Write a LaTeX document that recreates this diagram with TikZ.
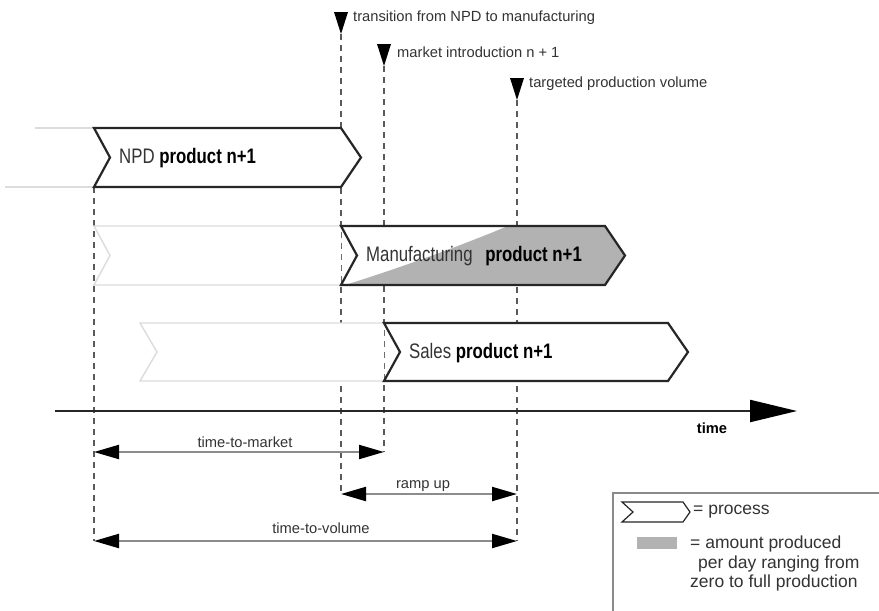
\documentclass[tikz,border=0pt]{standalone}
\usepackage{fontspec}
\setmainfont{Liberation Sans}
\newfontfamily\narrowsans{Liberation Sans}[FakeStretch=0.8]
\usetikzlibrary{arrows.meta}

\definecolor{ink}{HTML}{262626}
\definecolor{txt}{HTML}{333333}
\definecolor{ghost}{HTML}{DCDCDC}
\definecolor{prodgrey}{HTML}{B2B2B2}
\definecolor{guide}{HTML}{5A5A5A}
\definecolor{dimline}{HTML}{8C8C8C}
\definecolor{frame}{HTML}{8A8A8A}

\newcommand\smalltxt{\fontsize{14.7}{17}\selectfont}
\newcommand\legendtxt{\fontsize{17.5}{20.5}\selectfont}
\newcommand\chevtxt{\narrowsans\fontsize{21}{24}\selectfont}

\tikzset{
  chevron/.style={draw=ink, line width=2.2pt, line join=miter, fill=white},
  ghostchev/.style={draw=ghost, line width=1.4pt, fill=white},
  guideline/.style={draw=guide, line width=1.3pt, dash pattern=on 6pt off 5pt},
  dimarrow/.style={draw=dimline, line width=2.2pt,
    {Triangle[length=25pt,width=14pt,color=black]}-{Triangle[length=25pt,width=14pt,color=black]}},
  marker/.style={fill=black},
  toplabel/.style={anchor=west, inner sep=0pt, text=txt, font=\smalltxt},
  dimlabel/.style={anchor=base, inner sep=0pt, text=txt, font=\smalltxt},
  chevlabel/.style={anchor=west, inner sep=0pt, text=txt, font=\chevtxt},
  legendlabel/.style={anchor=west, inner sep=0pt, text=txt, font=\legendtxt, align=left},
}

\begin{document}
\begin{tikzpicture}[x=1pt,y=-1pt]
\useasboundingbox (0,0) rectangle (879,611);
\fill[white] (0,0) rectangle (879,611);

% milestone positions (tips of the markers) and dimension end points
\coordinate (m1) at (341,34);
\coordinate (m2) at (384,66);
\coordinate (m3) at (517,100);
\coordinate (s0) at (94,187);
\coordinate (ttmL) at (94,452);
\coordinate (ttmR) at (384,452);
\coordinate (rampL) at (341,494);
\coordinate (rampR) at (517,494);
\coordinate (ttvL) at (94,541);
\coordinate (ttvR) at (517,541);

% dashed guide lines
\draw[guideline] (s0) -- (ttvL);
\draw[guideline] (m1) -- (rampL);
\draw[guideline] (m2) -- (ttmR);
\draw[guideline] (m3) -- (ttvR);

% milestone markers and their labels
\fill[marker] (334,12) -- (348,12) -- (m1) -- cycle;
\fill[marker] (377,44) -- (391,44) -- (m2) -- cycle;
\fill[marker] (510,78) -- (524,78) -- (m3) -- cycle;
\node[toplabel] (l1) at (353,18) {transition from NPD to manufacturing};
\node[toplabel] (l2) at (397,52) {market introduction n + 1};
\node[toplabel] (l3) at (529,84) {targeted production volume};

% faint traces of earlier phases
\draw[draw=ghost, line width=1.4pt] (35,128) -- (94,128);
\draw[draw=ghost, line width=1.4pt] (5,187) -- (94,187);
\draw[ghostchev] (341,226) -- (94,226) -- (110,255.5) -- (94,285) -- (341,285);
\draw[ghostchev] (384,323) -- (140,323) -- (157,352) -- (140,381) -- (384,381);

% NPD
\draw[chevron] (94,128) -- (341,128) -- (361,157.5) -- (341,187) -- (94,187) -- (110,157.5) -- cycle;
\node[chevlabel] (npd) at (119,158) {NPD \textbf{\color{black}product n+1}};

% Manufacturing, with the ramp of daily output filled in grey
\fill[white] (341,226) -- (605,226) -- (625,255.5) -- (605,285) -- (341,285) -- (357,255.5) -- cycle;
\fill[prodgrey] (345,285) .. controls (400,268) and (460,246) .. (508,226)
  -- (605,226) -- (625,255.5) -- (605,285) -- cycle;
\draw[chevron, fill=none] (341,226) -- (605,226) -- (625,255.5) -- (605,285) -- (341,285) -- (357,255.5) -- cycle;
\node[chevlabel] (mfg) at (366,256) {Manufacturing\hspace{0.6em}\textbf{\color{black}product n+1}};

% Sales
\draw[chevron] (384,323) -- (668,323) -- (688,352) -- (668,381) -- (384,381) -- (400,352) -- cycle;
\node[chevlabel] (sales) at (409,353) {Sales \textbf{\color{black}product n+1}};

% time axis
\coordinate (t0) at (55,411);
\coordinate (t1) at (797,411);
\draw[draw=ink, line width=2.2pt, -{Triangle[length=47pt,width=22pt,color=black]}] (t0) -- (t1);
\node[anchor=base, inner sep=0pt, font=\smalltxt\bfseries] (time) at (712,433) {time};

% durations
\draw[dimarrow] (ttmL) -- (ttmR);
\node[dimlabel] (ttm) at (245,447) {time-to-market};
\draw[dimarrow] (rampL) -- (rampR);
\node[dimlabel] (ramp) at (423,488) {ramp up};
\draw[dimarrow] (ttvL) -- (ttvR);
\node[dimlabel] (ttv) at (321,533) {time-to-volume};

% legend
\draw[draw=frame, line width=1.5pt] (613,611) -- (613,493) -- (879,493);
\draw[draw=ink, line width=1.2pt, fill=white] (622,502) -- (683,502) -- (690,512) -- (683,522) -- (622,522) -- (633,512) -- cycle;
\node[legendlabel] (lp) at (693,512) {= process};
\fill[prodgrey] (637,537) rectangle (677,549);
\node[legendlabel, anchor=north west] (la) at (690,536) {= amount produced\\[-1pt]
  \hspace{0.45em}per day ranging from\\[-1pt]
  zero to full production};
\end{tikzpicture}
\end{document}
